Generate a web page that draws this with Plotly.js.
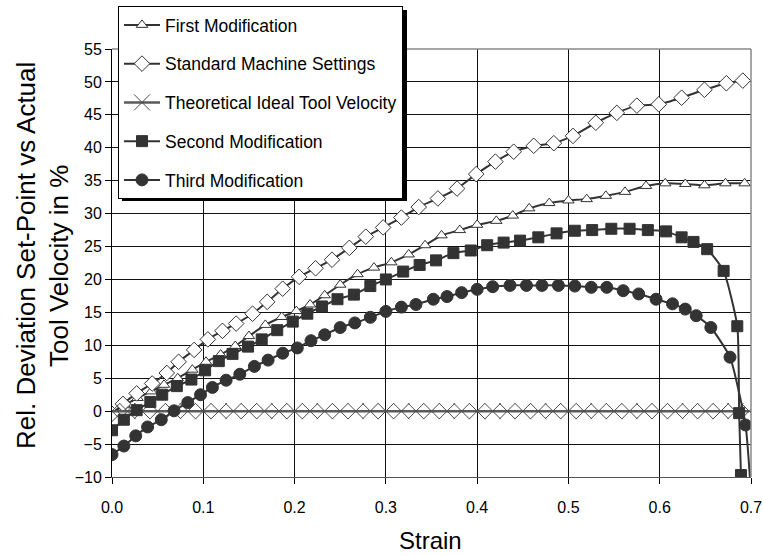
<!DOCTYPE html>
<html>
<head>
<meta charset="utf-8">
<script src="https://cdn.plot.ly/plotly-3.0.1.min.js"></script>
<style>html,body{margin:0;padding:0;background:#fff;}#chart{width:763px;height:556px;}</style>
</head>
<body>
<div id="chart"></div>
<script>
// ---- data ----
const firstX = [0.000,0.014,0.028,0.043,0.057,0.072,0.088,0.103,0.119,0.135,0.150,0.168,0.186,0.202,0.217,0.233,0.250,0.269,0.287,0.306,0.325,0.343,0.361,0.381,0.400,0.421,0.439,0.457,0.479,0.500,0.520,0.541,0.562,0.585,0.606,0.628,0.649,0.672,0.693];
const firstY = [-0.3,0.9,2.0,3.0,4.0,5.0,6.3,7.5,8.6,9.9,11.4,13.1,14.3,15.2,16.2,17.6,19.2,20.8,21.8,22.6,23.8,25.2,26.7,27.5,28.3,28.9,29.7,30.8,31.6,32.0,32.2,32.7,33.3,34.2,34.6,34.5,34.3,34.6,34.6];

const stdX = [0.000,0.012,0.027,0.044,0.060,0.073,0.090,0.105,0.121,0.136,0.154,0.170,0.187,0.205,0.223,0.241,0.260,0.278,0.297,0.317,0.336,0.357,0.378,0.399,0.420,0.440,0.462,0.484,0.505,0.530,0.553,0.575,0.599,0.624,0.649,0.673,0.691];
const stdY = [-0.4,1.1,2.7,4.2,5.8,7.5,9.3,10.9,12.2,13.3,14.8,16.6,18.6,20.4,21.7,23.0,24.8,26.5,27.9,29.4,31.0,32.3,33.8,36.0,37.9,39.4,40.3,40.7,41.8,43.8,45.3,46.4,46.6,47.6,48.8,49.8,50.2];

const idealX = [0.000,0.017,0.033,0.050,0.067,0.083,0.100,0.117,0.133,0.150,0.167,0.183,0.200,0.217,0.233,0.250,0.267,0.283,0.300,0.317,0.333,0.350,0.367,0.383,0.400,0.417,0.433,0.450,0.467,0.483,0.500,0.517,0.533,0.550,0.567,0.583,0.600,0.617,0.633,0.650,0.667,0.683,0.698];
const idealY = [0,0,0,0,0,0,0,0,0,0,0,0,0,0,0,0,0,0,0,0,0,0,0,0,0,0,0,0,0,0,0,0,0,0,0,0,0,0,0,0,0,0,0];

const secondX = [0.000,0.013,0.027,0.042,0.055,0.071,0.087,0.102,0.117,0.132,0.149,0.164,0.181,0.198,0.214,0.230,0.247,0.265,0.283,0.300,0.319,0.337,0.355,0.374,0.393,0.411,0.429,0.447,0.467,0.487,0.507,0.526,0.547,0.567,0.587,0.607,0.624,0.637,0.652,0.670,0.685,0.687,0.689];
const secondY = [-2.9,-1.3,0.15,1.4,2.5,3.8,4.8,6.2,7.6,8.7,9.8,10.9,12.3,13.6,14.8,15.9,17.0,17.7,19.0,20.0,21.2,22.2,22.9,24.0,24.4,25.2,25.6,25.9,26.4,27.0,27.4,27.5,27.7,27.7,27.5,27.3,26.4,25.7,24.6,21.3,12.9,-0.3,-9.7];

const thirdX = [0.000,0.013,0.026,0.039,0.054,0.068,0.083,0.097,0.110,0.125,0.140,0.156,0.171,0.187,0.203,0.218,0.233,0.250,0.266,0.283,0.300,0.317,0.333,0.352,0.367,0.383,0.400,0.417,0.436,0.454,0.471,0.489,0.507,0.525,0.542,0.560,0.577,0.596,0.614,0.628,0.640,0.656,0.677,0.694,0.700];
const thirdY = [-6.6,-5.3,-3.75,-2.4,-1.3,0.05,1.3,2.5,3.6,4.7,5.6,6.8,7.75,8.8,9.6,10.7,11.6,12.7,13.4,14.25,15.15,15.8,16.2,17.0,17.4,18.0,18.5,18.9,19.1,19.1,19.1,19.1,19.0,18.8,18.8,18.3,17.8,17.0,16.3,15.5,14.5,12.7,8.2,-2.1,-12.5];

const names = ["First Modification","Standard Machine Settings","Theoretical Ideal Tool Velocity","Second Modification","Third Modification"];
const xTickVals = [0,0.1,0.2,0.3,0.4,0.5,0.6,0.7];
const xTickText = ["0.0","0.1","0.2","0.3","0.4","0.5","0.6","0.7"];
const yTickVals = [-10,-5,0,5,10,15,20,25,30,35,40,45,50,55];
const xTitle = "Strain";
const yTitle1 = "Rel. Deviation Set-Point vs Actual";
const yTitle2 = "Tool Velocity in %";

// ---- styling ----
const dark = '#333333';
const lineSpec = {color: dark, width: 2, shape: 'spline', smoothing: 0.5};

const traces = [
  {x: firstX, y: firstY, name: names[0], legendgroup: 'g1', mode: 'lines+markers', line: lineSpec,
   marker: {symbol: 'triangle-up', size: 10, color: '#ffffff', line: {color: dark, width: 1}}},
  {x: stdX, y: stdY, name: names[1], legendgroup: 'g2', mode: 'lines+markers', line: lineSpec,
   marker: {symbol: 'diamond', size: 12, color: '#ffffff', line: {color: dark, width: 1}}},
  {x: idealX, y: idealY, name: names[2], legendgroup: 'g3', mode: 'lines+markers',
   line: {color: '#5a5a5a', width: 2.5},
   marker: {symbol: 'x-thin-open', size: 16, color: '#4a4a4a', line: {color: '#4a4a4a', width: 1}}},
  {x: secondX, y: secondY, name: names[3], legendgroup: 'g4', mode: 'lines+markers', line: lineSpec,
   marker: {symbol: 'square', size: 11, color: dark, line: {color: dark, width: 1}}},
  {x: thirdX, y: thirdY, name: names[4], legendgroup: 'g5', mode: 'lines+markers', line: lineSpec,
   marker: {symbol: 'circle', size: 12, color: dark, line: {color: dark, width: 1}}}
];

const W = 763, H = 556, L = 112, R = 12, T = 49, B = 79;
const pw = W - L - R, ph = H - T - B;
const px2x = p => (p - L) / pw;
const py2y = p => (H - B - p) / ph;

const layout = {
  width: W, height: H,
  margin: {l: L, r: R, t: T, b: B, pad: 0, autoexpand: false},
  paper_bgcolor: '#ffffff', plot_bgcolor: '#ffffff',
  font: {family: 'Liberation Sans, Arial, sans-serif', color: '#000000', size: 16},
  showlegend: true,
  legend: {
    x: px2x(118), y: py2y(6), xanchor: 'left', yanchor: 'top',
    bgcolor: '#ffffff', bordercolor: '#000000', borderwidth: 1,
    font: {size: 17.5, color: '#000000'}, tracegroupgap: 13, traceorder: 'grouped',
    itemwidth: 36
  },
  xaxis: {
    range: [0, 0.7], tickvals: xTickVals, ticktext: xTickText,
    showgrid: true, gridcolor: '#111111', gridwidth: 1,
    showline: true, linecolor: '#555555', linewidth: 1,
    ticks: 'outside', ticklen: 6, tickcolor: '#000000',
    zeroline: false, tickfont: {size: 16}, ticklabelstandoff: 10
  },
  yaxis: {
    range: [-10, 55], tickvals: yTickVals,
    showgrid: true, gridcolor: '#111111', gridwidth: 1,
    showline: true, linecolor: '#000000', linewidth: 1,
    ticks: 'outside', ticklen: 6, tickcolor: '#000000',
    zeroline: false, tickfont: {size: 16}
  },
  shapes: [
    {type: 'line', xref: 'paper', yref: 'paper', x0: 0, x1: 1, y0: 1, y1: 1, line: {color: '#888888', width: 1.5}, layer: 'above'},
    {type: 'line', xref: 'paper', yref: 'paper', x0: 1, x1: 1, y0: 0, y1: 1, line: {color: '#888888', width: 1.5}, layer: 'above'},
    {type: 'rect', xref: 'paper', yref: 'paper', x0: px2x(122), x1: px2x(407), y0: py2y(10), y1: py2y(201),
     fillcolor: '#000000', line: {width: 0}, layer: 'above'}
  ],
  annotations: [
    {text: xTitle, xref: 'paper', yref: 'paper', x: px2x(430), y: py2y(540), showarrow: false,
     xanchor: 'center', yanchor: 'middle', font: {size: 24}},
    {text: yTitle1, xref: 'paper', yref: 'paper',
     x: px2x(26), y: py2y(256), showarrow: false, textangle: -90, xanchor: 'center', yanchor: 'middle',
     font: {size: 26}},
    {text: yTitle2, xref: 'paper', yref: 'paper',
     x: px2x(59), y: py2y(266), showarrow: false, textangle: -90, xanchor: 'center', yanchor: 'middle',
     font: {size: 26}}
  ]
};

Plotly.newPlot('chart', traces, layout, {displayModeBar: false, staticPlot: true});
</script>
</body>
</html>
